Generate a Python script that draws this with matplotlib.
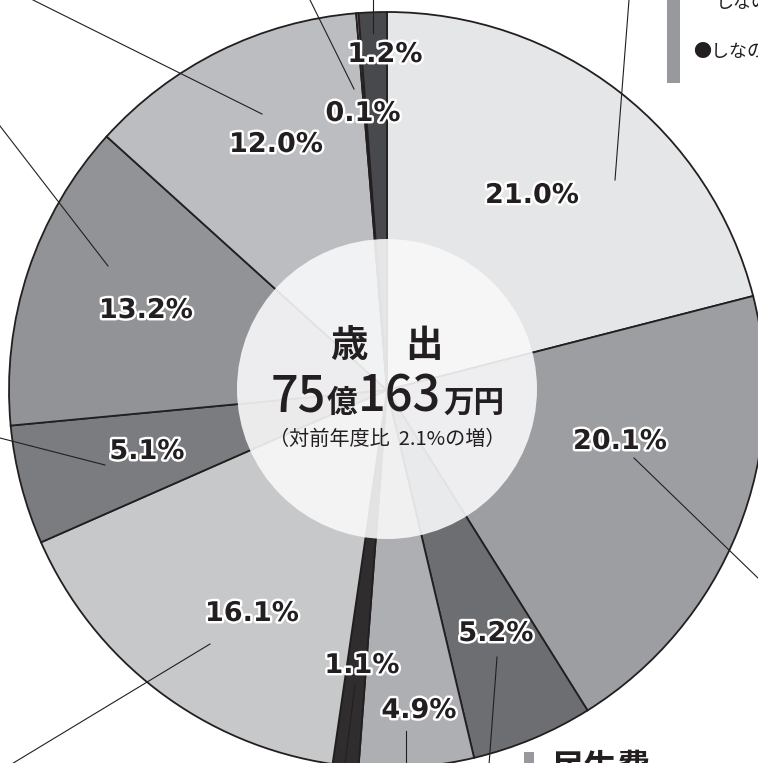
import matplotlib.pyplot as plt
import matplotlib.patheffects as pe
from matplotlib.patches import Circle, Rectangle

W, H = 758, 763

# 歳出の構成比（%）  12時から時計回り
labels = ["21.0%", "20.1%", "5.2%", "4.9%", "1.1%", "16.1%",
          "5.1%", "13.2%", "12.0%", "0.1%", "1.2%"]
shares = [21.0, 20.1, 5.2, 4.9, 1.1, 16.1, 5.1, 13.2, 12.0, 0.1, 1.2]
colors = ["#e5e6e8", "#9d9ea2", "#6d6e72", "#aeafb3", "#2f2d2e", "#c7c8ca",
          "#7b7c80", "#929397", "#bcbdc0", "#8e8f93", "#48494d"]

total_title = "歳　出"
total_oku, total_man = "75", "163"
change_text = "（対前年度比  2.1%の増）"

JP = ["Noto Sans CJK JP", "DejaVu Sans"]
INK = "#231f20"


def main():
    fig = plt.figure(figsize=(W / 100, H / 100), dpi=100)
    ax = fig.add_axes([0, 0, 1, 1])

    cx, cy, r = 387, 390, 378
    # y axis is inverted, so counterclock in data = clockwise on screen
    ax.pie(shares, colors=colors, center=(cx, cy), radius=r,
           startangle=-90, counterclock=True, frame=True,
           wedgeprops=dict(edgecolor=INK, linewidth=1.3))
    ax.set_xlim(0, W)
    ax.set_ylim(H, 0)  # pixel coords, y down
    ax.set_aspect("equal")
    ax.axis("off")

    # 中央の円
    ax.add_patch(Circle((387, 389), 150, facecolor="#f8f8f9", alpha=0.9,
                        edgecolor="none", zorder=3))

    # 引き出し線
    leaders = [
        ((615, 180), (629, 0)),
        ((634, 458), (760, 580)),
        ((497, 657), (489, 765)),
        ((406, 731), (406, 765)),
        ((355, 685), (345, 765)),
        ((210, 644), (10, 765)),
        ((105, 465), (0, 438)),
        ((108, 266), (0, 126)),
        ((262, 114), (33, 0)),
        ((354, 89), (310, 0)),
        ((373, 33), (373, 0)),
    ]
    for (x0, y0), (x1, y1) in leaders:
        ax.plot([x0, x1], [y0, y1], color=INK, lw=0.8, zorder=4)

    # 構成比ラベル
    label_pos = [(532, 196), (620, 442), (496, 634), (419, 711), (362, 666),
                 (252, 614), (147, 452), (146, 311), (276, 145), (363, 114),
                 (385, 55)]
    outline = [pe.withStroke(linewidth=3.5, foreground="white")]
    for text, (x, y) in zip(labels, label_pos):
        ax.text(x, y, text, fontsize=19.5, fontweight="bold", color=INK,
                ha="center", va="center", path_effects=outline, zorder=6)

    # 中央テキスト
    ax.text(387, 346, total_title, fontsize=27, fontweight="bold", color=INK,
            family=JP, ha="center", va="center", zorder=6)
    ax.text(271, 412, total_oku, fontsize=35, fontweight="medium", color=INK,
            family=JP, ha="left", va="baseline", zorder=6)
    ax.text(327, 412, "億", fontsize=22, fontweight="bold", color=INK,
            family=JP, ha="left", va="baseline", zorder=6)
    ax.text(358, 412, total_man, fontsize=35, fontweight="medium", color=INK,
            family=JP, ha="left", va="baseline", zorder=6)
    ax.text(443, 412, "万円", fontsize=22, fontweight="bold", color=INK,
            family=JP, ha="left", va="baseline", zorder=6)
    ax.text(387, 439, change_text, fontsize=14.5, color=INK, family=JP,
            ha="center", va="center", zorder=6)

    # 枠外に切れている凡例の一部
    ax.add_patch(Rectangle((667, -5), 13, 88, facecolor="#98999d",
                           edgecolor="none", zorder=5))
    ax.text(716, 3, "しなの", fontsize=13, color=INK, family=JP,
            ha="left", va="center", zorder=6)
    ax.text(693, 52, "●しなの", fontsize=13, color=INK, family=JP,
            ha="left", va="center", zorder=6)
    ax.add_patch(Rectangle((524, 752), 10, 15, facecolor="#98999d",
                           edgecolor="none", zorder=5))
    ax.text(550, 768, "民生費", fontsize=24, fontweight="bold", color=INK,
            family=JP, ha="left", va="center", zorder=6)

    fig.savefig("out.png", dpi=100)


if __name__ == "__main__":
    main()
